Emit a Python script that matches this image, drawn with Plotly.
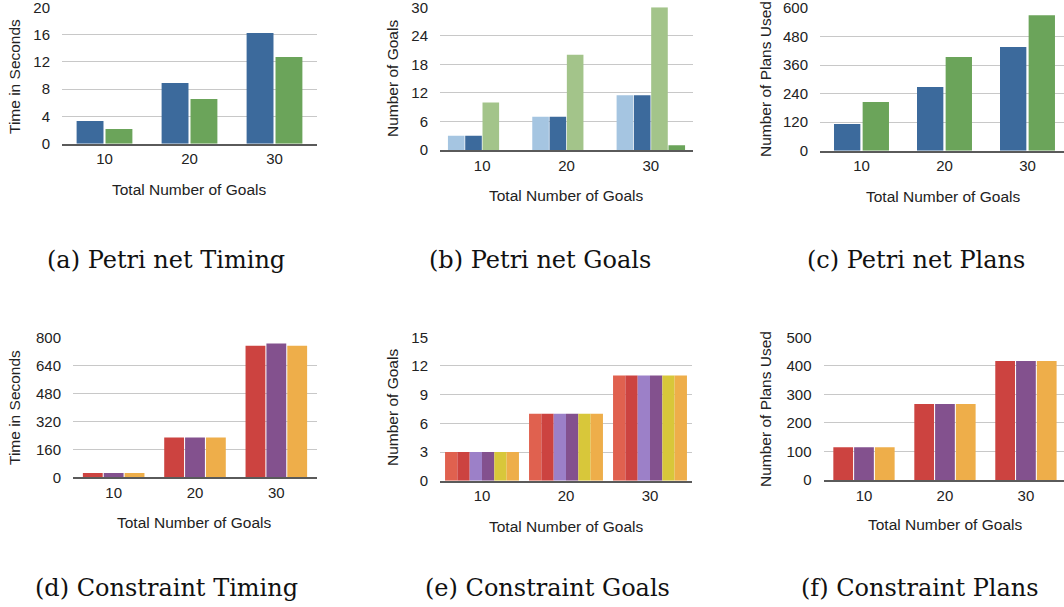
import plotly.graph_objects as go

W, H = 1064, 607

categories = ["10", "20", "30"]

# (a) Petri net Timing
a_blue = [3.33, 8.9, 16.23]
a_green = [2.16, 6.55, 12.7]
# (b) Petri net Goals
b_lightblue = [3, 7, 11.5]
b_blue = [3, 7, 11.5]
b_lightgreen = [10, 20, 30]
b_green = [0, 0, 1]
# (c) Petri net Plans
c_blue = [112, 268, 436]
c_green = [205, 394, 570]
# (d) Constraint Timing
d_red = [25, 227, 752]
d_purple = [25, 227, 764]
d_orange = [25, 227, 752]
# (e) Constraint Goals
e_salmon = [3, 7, 11]
e_red = [3, 7, 11]
e_lavender = [3, 7, 11]
e_purple = [3, 7, 11]
e_yellow = [3, 7, 11]
e_orange = [3, 7, 11]
# (f) Constraint Plans
f_red = [115, 266, 417]
f_purple = [115, 266, 417]
f_orange = [115, 266, 417]

a_ticks = [0, 4, 8, 12, 16, 20]
b_ticks = [0, 6, 12, 18, 24, 30]
c_ticks = [0, 120, 240, 360, 480, 600]
d_ticks = [0, 160, 320, 480, 640, 800]
e_ticks = [0, 3, 6, 9, 12, 15]
f_ticks = [0, 100, 200, 300, 400, 500]

captions = ["(a) Petri net Timing", "(b) Petri net Goals", "(c) Petri net Plans",
            "(d) Constraint Timing", "(e) Constraint Goals", "(f) Constraint Plans"]
x_title = "Total Number of Goals"
y_titles = ["Time in Seconds", "Number of Goals", "Number of Plans Used",
            "Time in Seconds", "Number of Goals", "Number of Plans Used"]

BLUE = "#3c6a9c"
GREEN = "#6ba45a"
LBLUE = "#a5c5e1"
LGREEN = "#a3c48a"
RED = "#cc4340"
PURPLE = "#83518e"
ORANGE = "#eeae4a"
SALMON = "#e0614f"
LAV = "#9c80c8"
YELLOW = "#d8c73a"

panels = [
    dict(series=[a_blue, a_green], colors=[BLUE, GREEN], ticks=a_ticks,
         xd=(62, 317), yd=(7.3, 143.7), xmax=2.5, g=0.68, gg=0.07),
    dict(series=[b_lightblue, b_blue, b_lightgreen, b_green],
         colors=[LBLUE, BLUE, LGREEN, GREEN], ticks=b_ticks,
         xd=(440, 693), yd=(7.3, 150), xmax=2.5, g=0.82, gg=0.04),
    dict(series=[c_blue, c_green], colors=[BLUE, GREEN], ticks=c_ticks,
         xd=(820, 1064), yd=(8, 150.7), xmax=2.44, g=0.69, gg=0.08),
    dict(series=[d_red, d_purple, d_orange], colors=[RED, PURPLE, ORANGE], ticks=d_ticks,
         xd=(73, 317), yd=(337.3, 477.3), xmax=2.5, g=0.77, gg=0.05),
    dict(series=[e_salmon, e_red, e_lavender, e_purple, e_yellow, e_orange],
         colors=[SALMON, RED, LAV, PURPLE, YELLOW, ORANGE], ticks=e_ticks,
         xd=(440, 692), yd=(337.3, 480.7), xmax=2.5, g=0.88, gg=0.0),
    dict(series=[f_red, f_purple, f_orange], colors=[RED, PURPLE, ORANGE], ticks=f_ticks,
         xd=(823.5, 1064), yd=(337.3, 480), xmax=2.47, g=0.77, gg=0.05),
]

ytitle_pos = [(14, 77), (392, 79), (765, 79), (14, 408), (392, 408), (765, 409)]
xtitle_pos = [(189, 189), (566, 195), (943, 196), (194, 522), (566, 526), (945, 524)]
caption_pos = [(166, 260), (540, 260), (916, 260), (166, 588), (547, 588), (920, 588)]

fig = go.Figure()
layout = dict(
    width=W, height=H, margin=dict(l=0, r=0, t=0, b=0, autoexpand=False),
    paper_bgcolor="white", plot_bgcolor="white", template="none",
    showlegend=False, barmode="overlay",
    font=dict(family="Liberation Sans, Arial, sans-serif", size=14, color="#222"),
)
annotations = []

for i, p in enumerate(panels):
    k = "" if i == 0 else str(i + 1)
    xa, ya = "x" + k, "y" + k
    n = len(p["series"])
    slot = p["g"] / n
    w = slot * (1 - p["gg"])
    for j, (vals, col) in enumerate(zip(p["series"], p["colors"])):
        off = -p["g"] / 2 + j * slot + slot * p["gg"] / 2
        fig.add_trace(go.Bar(x=categories, y=vals, marker=dict(color=col, line=dict(width=0)),
                             width=w, offset=off, xaxis=xa, yaxis=ya, hoverinfo="y",
                             cliponaxis=False))
    x0, x1 = p["xd"]
    yt, yb = p["yd"]
    layout["xaxis" + k] = dict(
        domain=[x0 / W, x1 / W], anchor=ya, type="category", automargin=False,
        range=[-0.5, p["xmax"]], showgrid=False, zeroline=False,
        showline=True, linecolor="#5a5a5a", linewidth=1.5,
        ticks="outside", ticklen=1, tickcolor="rgba(0,0,0,0)",
        tickfont=dict(size=15), fixedrange=True, ticklabeloverflow="allow",
    )
    layout["yaxis" + k] = dict(
        domain=[1 - yb / H, 1 - yt / H], anchor=xa, automargin=False,
        range=[0, p["ticks"][-1]], tickvals=p["ticks"],
        showgrid=True, gridcolor="#c8c8c8", gridwidth=1.2, zeroline=False,
        showline=False, ticks="outside", ticklen=8, tickcolor="rgba(0,0,0,0)",
        tickfont=dict(size=15), fixedrange=True, ticklabeloverflow="allow",
    )
    tx, ty = ytitle_pos[i]
    annotations.append(dict(text=y_titles[i], x=tx / W, y=1 - ty / H, xref="paper", yref="paper",
                            textangle=-90, showarrow=False, xanchor="center", yanchor="middle",
                            font=dict(size=15.5, color="#222")))
    tx, ty = xtitle_pos[i]
    annotations.append(dict(text=x_title, x=tx / W, y=1 - ty / H, xref="paper", yref="paper",
                            showarrow=False, xanchor="center", yanchor="middle",
                            font=dict(size=15.5, color="#222")))
    tx, ty = caption_pos[i]
    annotations.append(dict(text=captions[i], x=tx / W, y=1 - ty / H, xref="paper", yref="paper",
                            showarrow=False, xanchor="center", yanchor="middle",
                            font=dict(family="DejaVu Serif, serif", size=24, color="#111")))

layout["annotations"] = annotations
fig.update_layout(**layout)
fig.write_html("out.html", config={"displayModeBar": False},
               post_script="document.body.style.margin='0';document.body.style.overflow='hidden';")
